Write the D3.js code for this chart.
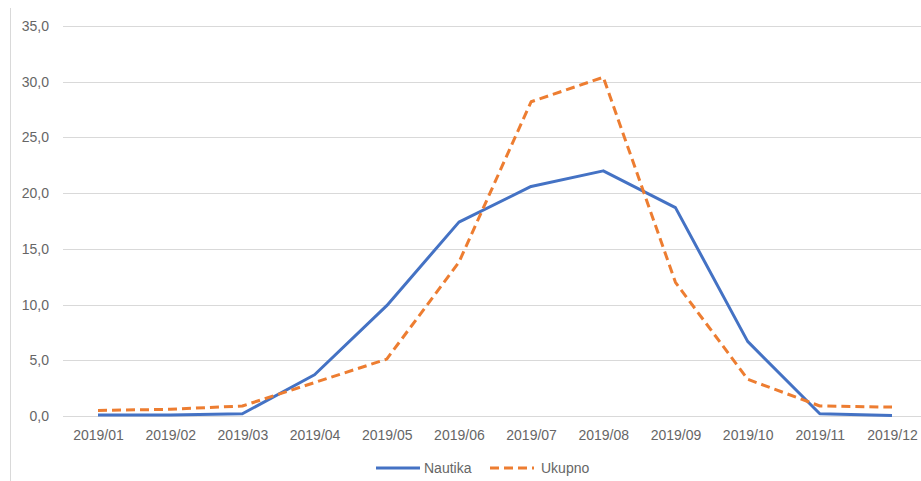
<!DOCTYPE html>
<html><head><meta charset="utf-8">
<script src="https://cdn.jsdelivr.net/npm/d3@7"></script>
<style>body{margin:0;background:#fff;}svg{display:block;}</style>
</head><body>
<script>
const categories = ["2019/01","2019/02","2019/03","2019/04","2019/05","2019/06","2019/07","2019/08","2019/09","2019/10","2019/11","2019/12"];
const nautika = [0.1, 0.1, 0.2, 3.7, 9.9, 17.4, 20.6, 22.0, 18.7, 6.7, 0.2, 0.05];
const ukupno  = [0.5, 0.6, 0.9, 3.0, 5.1, 13.8, 28.2, 30.4, 12.0, 3.3, 0.9, 0.8];
const yTicks = [0, 5, 10, 15, 20, 25, 30, 35];
const seriesNames = ["Nautika", "Ukupno"];

const W = 921, H = 481;
const svg = d3.select("body").append("svg").attr("width", W).attr("height", H);
const font = "'Liberation Sans', Arial, sans-serif";
const txt = "#666";

// chart border (left edge)
svg.append("line").attr("x1", 10.5).attr("x2", 10.5).attr("y1", 8).attr("y2", H).attr("stroke", "#d9d9d9");

const x = d3.scalePoint().domain(categories).range([98, 892]);
const y = d3.scaleLinear().domain([0, 35]).range([416, 26]);

// gridlines
svg.append("g").selectAll("line").data(yTicks).join("line")
  .attr("x1", 63).attr("x2", W)
  .attr("y1", d => Math.round(y(d)) + 0.5).attr("y2", d => Math.round(y(d)) + 0.5)
  .attr("stroke", "#d9d9d9").attr("stroke-width", 1);

// y labels
const fmt = d => d3.format(".1f")(d).replace(".", ",");
const yAxis = svg.append("g").attr("transform", "translate(49,0)")
  .call(d3.axisLeft(y).tickValues(yTicks).tickFormat(fmt).tickSize(0).tickPadding(0));
yAxis.select(".domain").remove();
yAxis.selectAll("text").attr("fill", txt).style("font-family", font).style("font-size", "14px");

// x labels
const xAxis = svg.append("g").attr("transform", "translate(0,416)")
  .call(d3.axisBottom(x).tickSize(0).tickPadding(14));
xAxis.select(".domain").remove();
xAxis.selectAll("text").attr("fill", txt).style("font-family", font).style("font-size", "14px");

const line = d3.line().x((d, i) => x(categories[i])).y(d => y(d));

svg.append("path").datum(nautika).attr("d", line)
  .attr("fill", "none").attr("stroke", "#4472C4").attr("stroke-width", 3).attr("stroke-linejoin", "round");
svg.append("path").datum(ukupno).attr("d", line)
  .attr("fill", "none").attr("stroke", "#ED7D31").attr("stroke-width", 3)
  .attr("stroke-dasharray", "9,5").attr("stroke-linejoin", "round");

// legend
const lg = svg.append("g").attr("transform", "translate(0,468)");
lg.append("line").attr("x1", 376).attr("x2", 420).attr("y1", 0).attr("y2", 0)
  .attr("stroke", "#4472C4").attr("stroke-width", 3);
lg.append("text").attr("x", 424).attr("y", 5).text(seriesNames[0])
  .attr("fill", txt).style("font-family", font).style("font-size", "14px");
lg.append("line").attr("x1", 490).attr("x2", 534).attr("y1", 0).attr("y2", 0)
  .attr("stroke", "#ED7D31").attr("stroke-width", 3).attr("stroke-dasharray", "9,5");
lg.append("text").attr("x", 541).attr("y", 5).text(seriesNames[1])
  .attr("fill", txt).style("font-family", font).style("font-size", "14px");
</script>
</body></html>
